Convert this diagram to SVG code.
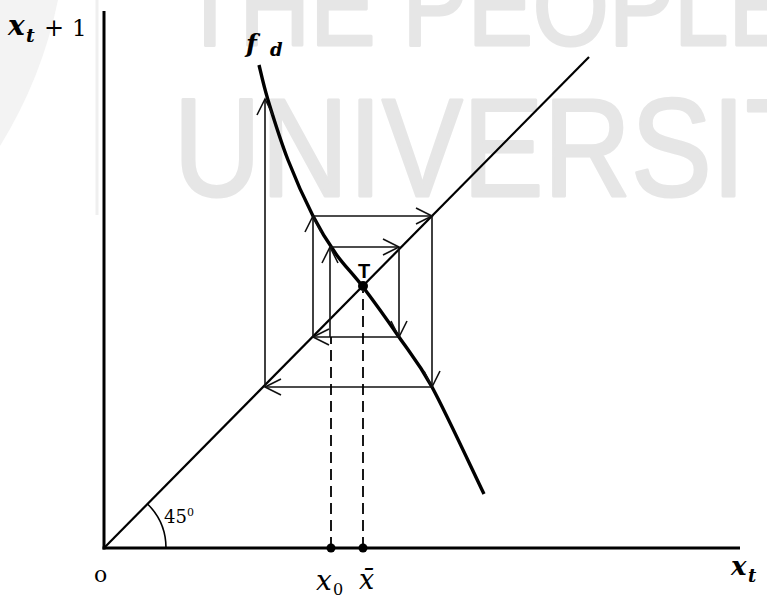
<svg xmlns="http://www.w3.org/2000/svg" width="767" height="598" viewBox="0 0 767 598">
<style>
.wm{font-family:"Liberation Sans",Arial,sans-serif;fill:#e6e6e6;stroke:#e6e6e6;stroke-width:3;stroke-linejoin:round}
.ax{stroke:#000;stroke-width:3;fill:none}
.cw{stroke:#111;stroke-width:1.6;fill:none;marker-end:url(#arr)}
.dash{stroke:#000;stroke-width:1.8;stroke-dasharray:11 6;fill:none}
.m{font-family:"DejaVu Serif","Liberation Serif",serif;fill:#000}
.bi{font-weight:bold;font-style:italic}
.it{font-style:italic}
</style>
<defs>
<marker id="arr" markerUnits="userSpaceOnUse" markerWidth="20" markerHeight="20" viewBox="-18 -10 20 20" refX="0" refY="0" orient="auto">
<path d="M-16,-8 L0,0 L-16,8" fill="none" stroke="#111" stroke-width="1.6"/>
</marker>
</defs>
<rect width="767" height="598" fill="#fff"/>
<g id="watermark">
<path d="M0,0 L58,0 Q42,78 0,146 Z" fill="#f3f3f3"/>
<line x1="97" y1="0" x2="97" y2="215" stroke="#efefef" stroke-width="3"/>
<text class="wm" x="208" y="45" font-size="113" transform="scale(0.865,1)">THE PEOPLE'S</text>
<text class="wm" x="200.6" y="196" font-size="140" transform="scale(0.865,1)">UNIVERSITY</text>
</g>
<g id="axes">
<line class="ax" x1="104" y1="11" x2="104" y2="549.5"/>
<line class="ax" x1="102.5" y1="548" x2="740" y2="548"/>
<path d="M166,548 A62,62 0 0,0 147.8,504.2" fill="none" stroke="#000" stroke-width="1.6"/>
</g>
<g id="diagonal">
<line x1="104" y1="548" x2="589" y2="57" stroke="#000" stroke-width="2.2"/>
</g>
<g id="curve-fd">
<path d="M259,65 C260.5,70.8 263.2,84.2 268,100 C272.8,115.8 280.5,140.7 288,160 C295.5,179.3 305,200.3 313,216 C321,231.7 327.7,242.2 336,254 C344.3,265.8 352.5,273.2 363,287 C373.5,300.8 387.5,320.3 399,337 C410.5,353.7 417.8,360.8 432,387 C446.2,413.2 475.3,476.2 484,494" fill="none" stroke="#000" stroke-width="3.4"/>
</g>
<g id="connectors">
<line class="cw" x1="330" y1="337" x2="330" y2="247"/>
<line class="cw" x1="330" y1="247" x2="399" y2="247"/>
<line class="cw" x1="399" y1="247" x2="399" y2="337"/>
<line class="cw" x1="399" y1="337" x2="313" y2="337"/>
<line class="cw" x1="313" y1="337" x2="313" y2="216"/>
<line class="cw" x1="313" y1="216" x2="432" y2="216"/>
<line class="cw" x1="432" y1="216" x2="432" y2="387"/>
<line class="cw" x1="432" y1="387" x2="265" y2="387"/>
<line class="cw" x1="265" y1="387" x2="265" y2="99"/>
<line class="dash" x1="331" y1="548" x2="331" y2="337"/>
<line class="dash" x1="363" y1="548" x2="363" y2="291"/>
</g>
<g id="points">
<circle cx="363" cy="286" r="5"/>
<circle cx="331" cy="548" r="4.5"/>
<circle cx="363" cy="548" r="4.5"/>
</g>
<g id="labels">
<text class="m" y="35"><tspan class="bi" x="8" font-size="28">x</tspan><tspan class="bi" x="26" y="42" font-size="19">t</tspan><tspan x="44" y="36" font-size="24">+</tspan><tspan x="72" y="36" font-size="23">1</tspan></text>
<text class="m bi" x="246" y="52" font-size="25">f</text>
<text class="m bi" x="270" y="56" font-size="18">d</text>
<text x="364" y="278" font-family="Liberation Sans,Arial,sans-serif" font-weight="bold" font-size="20" text-anchor="middle">T</text>
<text class="m" y="523"><tspan x="164" font-size="18">45</tspan><tspan x="187" y="516" font-size="11">0</tspan></text>
<text class="m" x="94" y="582" font-size="22">o</text>
<text class="m" y="590"><tspan class="it" x="316" font-size="28">x</tspan><tspan x="333" y="595" font-size="16">0</tspan></text>
<text class="m it" x="359" y="589" font-size="27">x̄</text>
<text class="m" y="575"><tspan class="bi" x="731" font-size="26">x</tspan><tspan class="bi" x="748" y="582" font-size="18">t</tspan></text>
</g>
</svg>
